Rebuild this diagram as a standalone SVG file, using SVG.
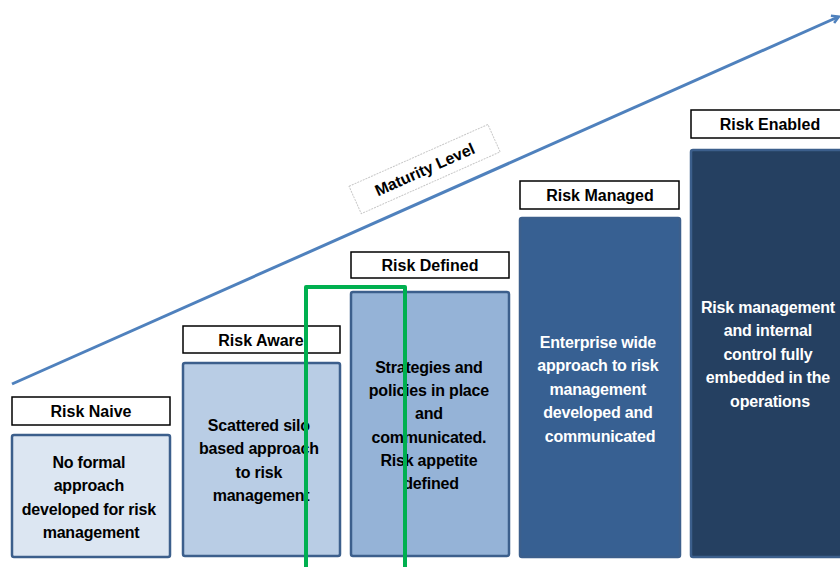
<svg xmlns="http://www.w3.org/2000/svg" width="840" height="567" viewBox="0 0 840 567">
  <style>
    .lbl { fill: #ffffff; stroke: #000000; stroke-width: 1.5; }
    .lbl-text { font-family: "Liberation Sans", Arial, sans-serif; font-weight: bold; font-size: 16px; fill: #000000; text-anchor: middle; }
    .body { stroke: #3c5f8c; stroke-width: 2.5; }
    .body-text { font-family: "Liberation Sans", Arial, sans-serif; font-weight: bold; font-size: 16px; text-anchor: middle; letter-spacing: -0.2px; }
    .dark { fill: #000000; }
    .light { fill: #ffffff; }
  </style>
  <defs>
    <marker id="arrow" markerWidth="10" markerHeight="10" refX="7" refY="5" orient="auto" markerUnits="userSpaceOnUse">
      <path d="M1,1 L8,5 L1,9" fill="none" stroke="#4f81bd" stroke-width="2.5"/>
    </marker>
  </defs>

  <rect width="840" height="567" fill="#ffffff"/>

  <!-- maturity trend arrow -->
  <g id="connectors">
    <line x1="12" y1="384" x2="838" y2="17" stroke="#4f81bd" stroke-width="3" marker-end="url(#arrow)"/>
  </g>

  <!-- rotated caption along the arrow -->
  <g id="maturity-level" transform="translate(425,170) rotate(-24)">
    <rect x="-76" y="-16" width="152" height="30" fill="#ffffff" stroke="#c8c8c8" stroke-width="1" stroke-dasharray="2,1"/>
    <text x="0" y="5" class="lbl-text" font-size="14">Maturity Level</text>
  </g>

  <g id="risk-naive">
    <rect x="12" y="397" width="158" height="28" class="lbl"/>
    <text x="91" y="417" class="lbl-text">Risk Naive</text>
    <rect x="12" y="435" width="158" height="122" rx="2" class="body" fill="#dce6f2"/>
    <text class="body-text dark">
      <tspan x="91" y="468">No formal</tspan>
      <tspan x="91" y="491">approach</tspan>
      <tspan x="91" y="515">developed for risk</tspan>
      <tspan x="91" y="538">management</tspan>
    </text>
  </g>

  <g id="risk-aware">
    <rect x="183" y="326" width="157" height="27" class="lbl"/>
    <text x="261" y="346" class="lbl-text">Risk Aware</text>
    <rect x="183" y="363" width="157" height="193" rx="2" class="body" fill="#b9cde5"/>
    <text class="body-text dark">
      <tspan x="261" y="431">Scattered silo</tspan>
      <tspan x="261" y="454">based approach</tspan>
      <tspan x="261" y="478">to risk</tspan>
      <tspan x="261" y="501">management</tspan>
    </text>
  </g>

  <g id="risk-defined">
    <rect x="351" y="252" width="158" height="26" class="lbl"/>
    <text x="430" y="271" class="lbl-text">Risk Defined</text>
    <rect x="351" y="292" width="158" height="264" rx="2" class="body" fill="#95b3d7"/>
    <text class="body-text dark">
      <tspan x="431" y="373">Strategies and</tspan>
      <tspan x="431" y="396">policies in place</tspan>
      <tspan x="431" y="419">and</tspan>
      <tspan x="431" y="443">communicated.</tspan>
      <tspan x="431" y="466">Risk appetite</tspan>
      <tspan x="431" y="489">defined</tspan>
    </text>
  </g>

  <g id="risk-managed">
    <rect x="520" y="181" width="159" height="28" class="lbl"/>
    <text x="600" y="201" class="lbl-text">Risk Managed</text>
    <rect x="520" y="218" width="160" height="339" rx="2" class="body" fill="#376092"/>
    <text class="body-text light">
      <tspan x="600" y="348">Enterprise wide</tspan>
      <tspan x="600" y="371">approach to risk</tspan>
      <tspan x="600" y="395">management</tspan>
      <tspan x="600" y="418">developed and</tspan>
      <tspan x="600" y="442">communicated</tspan>
    </text>
  </g>

  <g id="risk-enabled">
    <rect x="691" y="110" width="160" height="28" class="lbl"/>
    <text x="770" y="130" class="lbl-text">Risk Enabled</text>
    <rect x="691" y="150" width="160" height="407" rx="2" class="body" fill="#254061"/>
    <text class="body-text light">
      <tspan x="770" y="313">Risk management</tspan>
      <tspan x="770" y="336">and internal</tspan>
      <tspan x="770" y="360">control fully</tspan>
      <tspan x="770" y="383">embedded in the</tspan>
      <tspan x="770" y="407">operations</tspan>
    </text>
  </g>

  <!-- green highlight frame around the Risk Defined stage -->
  <g id="highlight">
    <path d="M306,567 V287 H405 V567" fill="none" stroke="#00b050" stroke-width="4" stroke-linejoin="round"/>
  </g>
</svg>
